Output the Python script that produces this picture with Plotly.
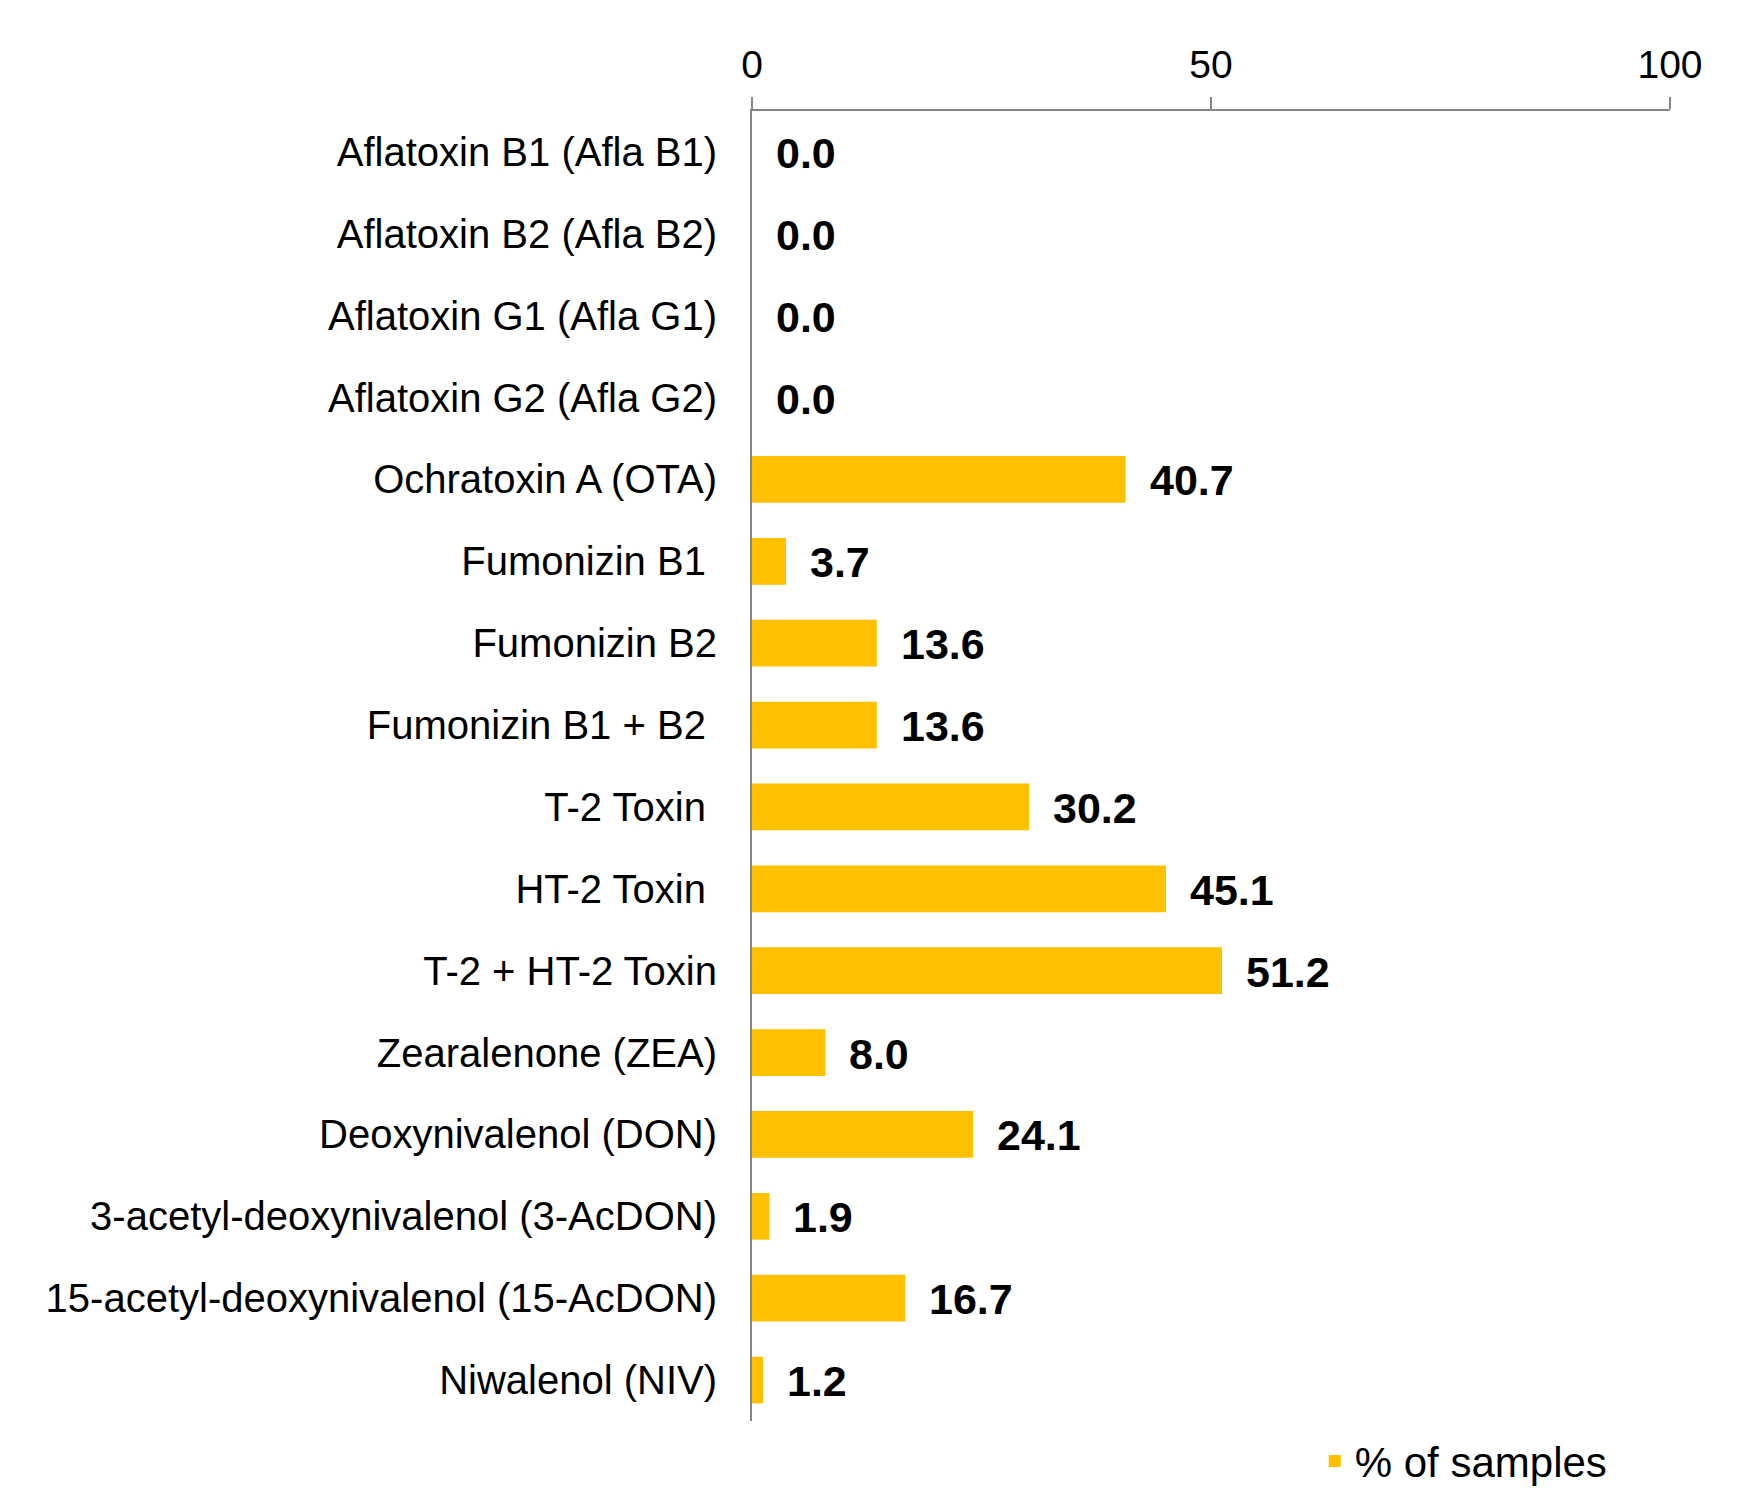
import plotly.graph_objects as go

NB = "\u00a0"
categories = [
    "Aflatoxin B1 (Afla B1)",
    "Aflatoxin B2 (Afla B2)",
    "Aflatoxin G1 (Afla G1)",
    "Aflatoxin G2 (Afla G2)",
    "Ochratoxin A (OTA)",
    "Fumonizin B1" + NB,
    "Fumonizin B2",
    "Fumonizin B1 + B2" + NB,
    "T-2 Toxin" + NB,
    "HT-2 Toxin" + NB,
    "T-2 + HT-2 Toxin",
    "Zearalenone (ZEA)",
    "Deoxynivalenol (DON)",
    "3-acetyl-deoxynivalenol (3-AcDON)",
    "15-acetyl-deoxynivalenol (15-AcDON)",
    "Niwalenol (NIV)",
]
percent_samples = [0.0, 0.0, 0.0, 0.0, 40.7, 3.7, 13.6, 13.6, 30.2, 45.1, 51.2, 8.0, 24.1, 1.9, 16.7, 1.2]
x_ticks = [0, 50, 100]
series_name = "% of samples"

FONT = "Liberation Sans, Arial, sans-serif"
GOLD = "#FFC000"
AXIS = "#868686"

fig = go.Figure()
fig.add_trace(go.Bar(
    x=percent_samples, y=categories, orientation="h",
    marker=dict(color=GOLD, line=dict(width=0)),
    name=series_name, showlegend=True,
))

for cat, v in zip(categories, percent_samples):
    fig.add_annotation(
        x=v, y=cat, xref="x", yref="y",
        text=f"<b>{v:.1f}</b>", showarrow=False,
        xanchor="left", yanchor="middle", xshift=22, yshift=-1,
        font=dict(family=FONT, size=43, color="#000000"),
    )

fig.update_layout(
    width=1738, height=1491,
    margin=dict(l=752, r=68, t=111, b=70, autoexpand=False),
    paper_bgcolor="white", plot_bgcolor="white",
    bargap=0.43,
    font=dict(family=FONT, color="#000000"),
    showlegend=True,
    legend=dict(
        orientation="h", x=0.613, xanchor="left",
        yref="container", y=0.02, yanchor="middle",
        font=dict(family=FONT, size=42, color="#000000"),
        bgcolor="rgba(0,0,0,0)",
    ),
    xaxis=dict(
        side="top", range=[0, 100], tickvals=x_ticks, ticktext=[str(t) for t in x_ticks],
        showgrid=False, zeroline=False,
        showline=True, linecolor=AXIS, linewidth=2,
        ticks="outside", ticklen=12, tickwidth=2, tickcolor=AXIS,
        tickfont=dict(family=FONT, size=39, color="#000000"),
        ticklabelstandoff=3,
    ),
    yaxis=dict(
        range=[len(categories) - 0.5, -0.5], autorange=False,
        showgrid=False, zeroline=False,
        showline=True, linecolor=AXIS, linewidth=2,
        ticks="", tickfont=dict(family=FONT, size=40, color="#000000"),
        ticklabelstandoff=25,
    ),
)

fig.write_html("out.html")
